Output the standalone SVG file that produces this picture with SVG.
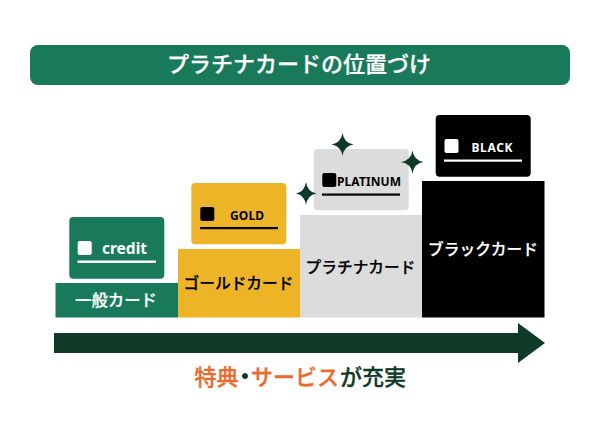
<svg xmlns="http://www.w3.org/2000/svg" width="600" height="425" viewBox="0 0 600 425">
<style>
text{font-family:"Noto Sans CJK JP","Noto Sans",sans-serif;font-weight:500;text-anchor:middle}
.jp{font-size:15.7px;stroke-width:.25px}
.lat{font-size:12px;font-weight:700;font-family:"Noto Sans","Noto Sans CJK JP",sans-serif}
.w{fill:#fff}.k{fill:#000}
.jp.w,.t.w{stroke:#fff}.jp.k{stroke:#000}
.t{stroke-width:.25px}
.g{fill:#187a5a}.y{fill:#edb428}.s{fill:#dcdcdc}.b{fill:#000}
.spark{fill:#0e3a27}
.cap{font-size:22px;stroke-width:.3px}.o{fill:#ea6a2c;stroke:#ea6a2c}.d{fill:#0e3a27;stroke:#0e3a27}
</style>
<rect width="600" height="425" fill="#fff"/>
<g id="title"><rect class="g" x="30" y="45" width="540" height="40" rx="8"/><text class="w t" x="299" y="72" font-size="22">プラチナカードの位置づけ</text></g>
<g id="step-general"><rect class="g" x="55.500" y="283" width="122.500" height="34.500"/><text class="w t" font-size="16.400" x="116" y="306">一般カード</text></g>
<g id="step-gold"><rect class="y" x="178" y="249" width="122" height="68.500"/><text class="k jp" x="238.500" y="289">ゴールドカード</text></g>
<g id="step-platinum"><rect class="s" x="300" y="215" width="122" height="102.500"/><text class="k jp" x="360.500" y="273">プラチナカード</text></g>
<g id="step-black"><rect class="b" x="422" y="181" width="122.500" height="136.500"/><text class="w jp" x="483" y="255">ブラックカード</text></g>
<g id="card-credit"><rect class="g" x="69.300" y="217" width="95" height="61.700" rx="4"/><rect class="w" x="77.700" y="241" width="14" height="14" rx="2"/><text class="w" style="font-family:'Noto Sans',sans-serif;font-weight:700" x="124.500" y="253.500" font-size="15.500" textLength="45" lengthAdjust="spacing">credit</text><rect class="w" x="77.500" y="260.500" width="78.500" height="2.400"/></g>
<g id="card-gold"><rect class="y" x="191.300" y="183" width="95" height="61.300" rx="4"/><rect class="k" x="200.300" y="207" width="14" height="14" rx="2"/><text class="k lat" x="247" y="219.500" textLength="34" lengthAdjust="spacing">GOLD</text><rect class="k" x="200" y="227" width="78" height="2.200"/></g>
<g id="card-platinum"><rect class="s" x="313.700" y="149" width="95" height="61.300" rx="4"/><rect class="k" x="322.300" y="173" width="14" height="14" rx="2"/><text class="k lat" x="369" y="185.500" textLength="64" lengthAdjust="spacing">PLATINUM</text><rect class="k" x="322" y="193.500" width="78" height="2.200"/></g>
<g id="card-black"><rect class="b" x="435.700" y="115" width="95" height="61.700" rx="4"/><rect class="w" x="444.500" y="139" width="14" height="14" rx="2"/><text class="w lat" x="492" y="151.500" textLength="41" lengthAdjust="spacing">BLACK</text><rect class="w" x="444" y="159.500" width="78" height="2.200"/></g>
<g id="sparkles">
<path class="spark" d="M342.500 133 Q344 143 353.500 144.500 Q344 146 342.500 156 Q341 146 331.500 144.500 Q341 143 342.500 133Z"/>
<path class="spark" d="M412.500 150.500 Q414 160.500 423.500 162 Q414 163.500 412.500 173.500 Q411 163.500 401 162 Q411 160.500 412.500 150.500Z"/>
<path class="spark" d="M306 182 Q307.500 192 316.500 193.500 Q307.500 195 306 205 Q304.500 195 296 193.500 Q304.500 192 306 182Z"/>
</g>
<g id="connectors"><path id="arrow" fill="#0e3a27" d="M54 333H518V323L545 343L518 363V353H54Z"/></g>
<g id="caption"><text class="cap o" x="216.500" y="385">特典</text><circle class="d" cx="245" cy="376" r="2.500" stroke="none"/><text class="cap o" x="295" y="385">サービス</text><text class="cap d" x="373" y="385">が充実</text></g>
</svg>
